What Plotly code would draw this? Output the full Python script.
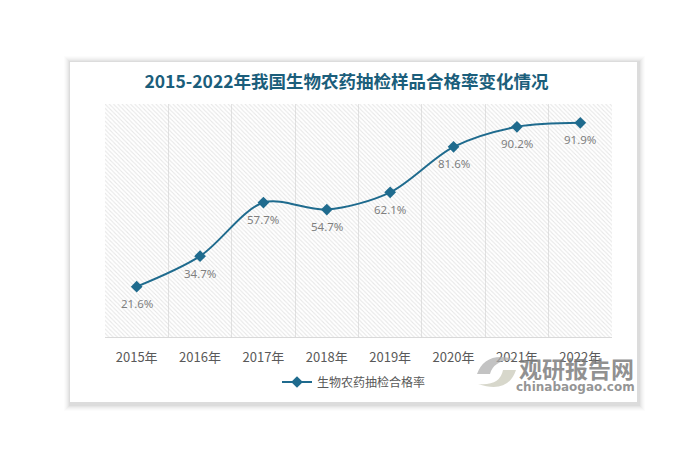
import plotly.graph_objects as go

# ---- data ----
years = ["2015年", "2016年", "2017年", "2018年", "2019年", "2020年", "2021年", "2022年"]
rates = [21.6, 34.7, 57.7, 54.7, 62.1, 81.6, 90.2, 91.9]
labels = [f"{v:.1f}%" for v in rates]
series_name = "生物农药抽检合格率"
title_text = "2015-2022年我国生物农药抽检样品合格率变化情况"

W, H = 700, 469
L, R, T, B = 105, 88, 104, 132
pw, ph = W - L - R, H - T - B

def px(x):
    return (x - L) / pw

def py(y):
    return 1 - (y - T) / ph

LINE = "#1f6b8e"
xs = list(range(len(years)))

fig = go.Figure()

# hatched plot-area background
fig.add_trace(go.Scatter(
    x=[-0.5, len(years) - 0.5, len(years) - 0.5, -0.5, -0.5],
    y=[0, 0, 100, 100, 0],
    fill="toself", mode="none", hoverinfo="skip", showlegend=False,
    fillcolor="rgba(0,0,0,0)",
    fillpattern=dict(shape="\\", fgcolor="#cfcfcf", bgcolor="rgba(0,0,0,0)",
                     size=3, solidity=0.35),
))

fig.add_trace(go.Scatter(
    x=xs, y=rates, name=series_name,
    mode="lines+markers",
    line=dict(color=LINE, width=2, shape="spline", smoothing=0.9),
    marker=dict(symbol="diamond", size=9, color=LINE),
))

# card + soft shadow
shapes = []
for i, op in enumerate([0.012, 0.016, 0.02, 0.025, 0.03, 0.035]):
    g = 7 - i
    shapes.append(dict(type="rect", xref="paper", yref="paper", layer="below",
                       x0=px(70 - g + 1), x1=px(637 + g + 1), y0=py(402 + g + 2), y1=py(62 - g + 1),
                       line=dict(width=0), fillcolor=f"rgba(0,0,0,{op})"))
shapes.append(dict(type="rect", xref="paper", yref="paper", layer="below",
                   x0=px(70), x1=px(637), y0=py(402), y1=py(62),
                   line=dict(width=0), fillcolor="white"))
# watermark swirl (approximation)
shapes.append(dict(type="path", xref="paper", yref="paper", layer="above",
                   path=f"M {px(477)} {py(374)} Q {px(486)} {py(350)} {px(517)} {py(360)} "
                        f"Q {px(494)} {py(359)} {px(490)} {py(374)} Z",
                   line=dict(width=0), fillcolor="rgba(175,175,175,0.75)"))
shapes.append(dict(type="path", xref="paper", yref="paper", layer="above",
                   path=f"M {px(516)} {py(370)} Q {px(508)} {py(394)} {px(478)} {py(384)} "
                        f"Q {px(500)} {py(386)} {px(503)} {py(370)} Z",
                   line=dict(width=0), fillcolor="rgba(205,205,190,0.8)"))

annotations = [
    dict(x=x, y=v, text=t, showarrow=False, yshift=-17, xref="x", yref="y",
         font=dict(family="Noto Sans, DejaVu Sans, sans-serif", size=11.5, color="#7f7f7f"))
    for x, v, t in zip(xs, rates, labels)
]
annotations += [
    dict(text="<b>观研报告网</b>", xref="paper", yref="paper", x=px(576), y=py(368),
         xanchor="center", yanchor="middle",
         showarrow=False, font=dict(family="Noto Sans CJK SC", size=23, color="rgba(125,125,125,0.85)")),
    dict(text="<b>chinabaogao.com</b>", xref="paper", yref="paper", x=px(575), y=py(387),
         xanchor="center", yanchor="middle",
         showarrow=False, font=dict(family="DejaVu Sans", size=12, color="rgba(130,130,130,0.85)")),
]

fig.update_layout(
    width=W, height=H,
    margin=dict(l=L, r=R, t=T, b=B),
    paper_bgcolor="white", plot_bgcolor="white",
    title=dict(text=f"<b>{title_text}</b>", x=346.5 / W, xanchor="center",
               y=1 - 82 / H, yanchor="middle",
               font=dict(family="Noto Sans CJK SC", size=17.5, color="#1b5e7b")),
    xaxis=dict(range=[-0.5, len(years) - 0.5], tickvals=xs, ticktext=years,
               showgrid=False, zeroline=False,
               showline=True, linecolor="#d9d9d9", linewidth=1,
               ticks="", ticklabelstandoff=8,
               tickfont=dict(family="Noto Sans CJK SC", size=13, color="#595959"),
               minor=dict(tick0=-0.5, dtick=1, showgrid=True, gridcolor="#e3e3e3", gridwidth=1, ticks="")),
    yaxis=dict(range=[0, 100], visible=False, showgrid=False, zeroline=False),
    showlegend=True,
    legend=dict(orientation="h", x=px(354), xanchor="center", y=py(382), yanchor="middle",
                font=dict(family="Noto Sans CJK SC", size=12, color="#595959"),
                bgcolor="rgba(0,0,0,0)"),
    shapes=shapes, annotations=annotations,
)

fig.write_html("out.html", config={"displayModeBar": False},
               post_script="document.body.style.margin='0';document.body.style.overflow='hidden';")
